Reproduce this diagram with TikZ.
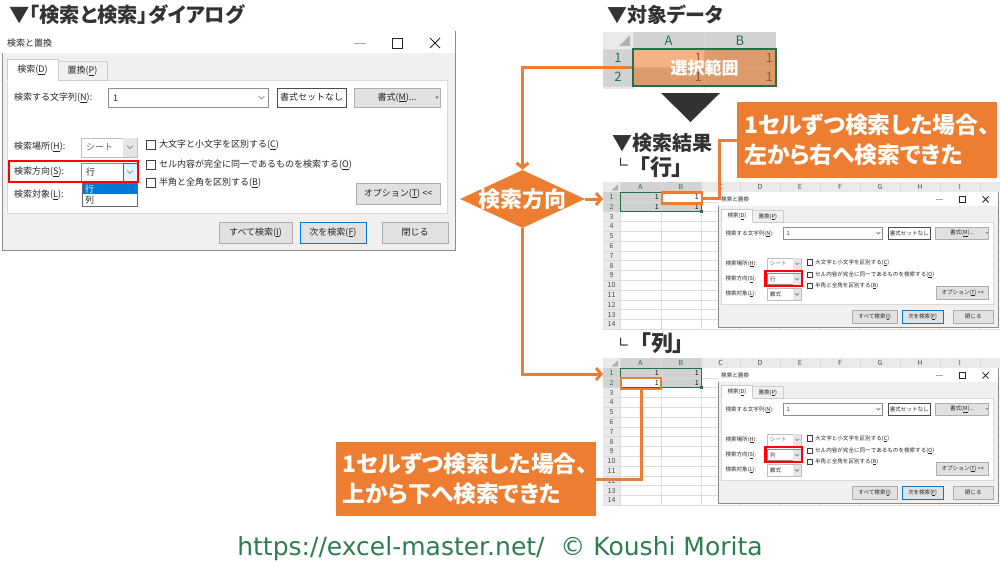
\documentclass[tikz,border=0pt]{standalone}
\usepackage{fontspec}
\setmainfont{Noto Sans CJK JP}
\newfontfamily\pfont{Noto Sans CJK JP}[RawFeature=+palt]
\newfontfamily\footfont{DejaVu Sans}
\usetikzlibrary{shapes.geometric,arrows.meta}
\definecolor{org}{HTML}{ED7D31}
\definecolor{ink}{HTML}{333333}
\definecolor{xlg}{HTML}{217346}
\definecolor{hdr}{HTML}{E9E9E9}
\definecolor{hdrsel}{HTML}{D2D2D2}
\definecolor{gridc}{HTML}{DADADA}
\definecolor{selg}{HTML}{D0D0D0}
\definecolor{selt}{HTML}{C6C6C6}
\definecolor{dlgbg}{HTML}{F0F0F0}
\definecolor{btnf}{HTML}{E1E1E1}
\definecolor{btnb}{HTML}{ADADAD}
\definecolor{winblue}{HTML}{0078D7}
\definecolor{hover}{HTML}{E5F1FB}
\definecolor{footg}{HTML}{2E7D4F}
\definecolor{redbox}{HTML}{FF0000}
\tikzset{
  conn/.style={draw=org, line width=3pt},
  tip/.style={-{Straight Barb[length=5pt,width=12pt]}},
  ttl/.style={font=\pfont\bfseries\fontsize{20}{22}\selectfont, text=ink, inner sep=0pt},
  callout/.style={fill=org, text=white, font=\pfont\bfseries\fontsize{22.8}{30}\selectfont, align=left, inner sep=0pt, minimum width=260, minimum height=76},
  dt/.style={font=\fontsize{9}{10}\selectfont, text=black!85, inner sep=0pt},
  dbtn/.style={dt, draw=btnb, fill=btnf, line width=0.6pt},
  cmb/.style={draw=black!45, fill=white, line width=0.6pt},
  cmblight/.style={draw=black!25, fill=white, line width=0.6pt},
  chev/.style={draw=black!55, line width=0.6pt},
  chk/.style={draw=black!75, fill=white, line width=0.7pt},
  redframe/.style={draw=redbox, line width=2.6pt},
  sh/.style={font=\fontsize{7}{8}\selectfont, inner sep=0pt, text=black!70},
  shg/.style={sh, text=xlg},
  tsh/.style={font=\fontsize{13}{14}\selectfont, inner sep=0pt, text=black!75},
  cellbox/.style={draw=org, line width=2.8pt, inner sep=0pt, outer sep=0pt, minimum width=40, minimum height=11},
  gline/.style={draw=gridc, line width=0.5pt},
}
% ---------- Find & Replace dialog (local coords, 453 x 219) ----------
\newcommand\finddlg[3]{%
  \draw[draw=black!45, fill=dlgbg, line width=0.8pt] (0,0) rectangle (453,219);
  \fill[white] (0.4,0.4) rectangle (452.6,22);
  \node[dt, anchor=west] (#1ttl) at (5,12) {検索と置換};
  \draw[black!35, line width=0.6pt] (352,12) -- (364,12);
  \draw[black!85, line width=0.8pt] (390,7) rectangle (400,17);
  \draw[black!85, line width=0.8pt] (428,7) -- (438,17) (428,17) -- (438,7);
  \draw[draw=black!15, fill=white, line width=0.6pt] (5,49) rectangle (445,182);
  \draw[draw=black!20, fill=dlgbg, line width=0.6pt] (56,30) rectangle (105,49);
  \fill[white] (5,28) rectangle (56,49.6);
  \draw[draw=black!20, line width=0.6pt] (5,49) -- (5,28) -- (56,28) -- (56,49);
  \node[dt] (#1tabA) at (30.5,39) {検索(\underline{D})};
  \node[dt] (#1tabB) at (80.5,40) {置換(\underline{P})};
  \node[dt, anchor=west] (#1labA) at (12,67) {検索する文字列(\underline{N}):};
  \draw[cmb] (106,57) rectangle (266,76);
  \draw[chev] (256.5,65) -- (259.5,68) -- (262.5,65);
  \node[dt, anchor=west] (#1valA) at (111,67) {1};
  \node[dbtn, fill=white, draw=black!70, minimum width=69, minimum height=19] (#1fmtA) at (309.5,66.5) {書式セットなし};
  \node[dbtn, minimum width=86, minimum height=19] (#1fmtB) at (395,66.5) {書式(\underline{M})...};
  \fill[black!70] (433.5,65.5) -- (436.5,65.5) -- (435,67.5) -- cycle;
  \node[dt, anchor=west] (#1labB) at (12,116) {検索場所(\underline{H}):};
  \draw[cmblight] (79,107) rectangle (135,126);
  \fill[black!10] (121,107.3) rectangle (134.7,125.7);
  \draw[chev] (125,114.5) -- (128,117.5) -- (131,114.5);
  \node[dt, anchor=west, text=black!60] (#1valB) at (84,116) {シート};
  \node[dt, anchor=west] (#1labC) at (12,141) {検索方向(\underline{S}):};
  \draw[cmb] (79,132) rectangle (135,150);
  \ifnum#3=1
    \draw[draw=winblue, fill=hover, line width=0.6pt] (121,132) rectangle (135,150);
  \else
    \fill[black!10] (121,132.3) rectangle (134.7,149.7);
  \fi
  \draw[chev] (125,139.5) -- (128,142.5) -- (131,139.5);
  \node[dt, anchor=west] (#1valC) at (84,141) {#2};
  \node[dt, anchor=west] (#1labD) at (12,164) {検索対象(\underline{L}):};
  \draw[chk] (144,109.5) rectangle (153,118.5);
  \node[dt, anchor=west] (#1chkA) at (157,114) {大文字と小文字を区別する(\underline{C})};
  \draw[chk] (144,129.5) rectangle (153,138.5);
  \node[dt, anchor=west] (#1chkB) at (157,134) {セル内容が完全に同一であるものを検索する(\underline{O})};
  \draw[chk] (144,147.5) rectangle (153,156.5);
  \node[dt, anchor=west] (#1chkC) at (157,152) {半角と全角を区別する(\underline{B})};
  \node[dbtn, minimum width=84, minimum height=21] (#1opt) at (396,162.5) {オプション(\underline{T}) <{}<};
  \node[dbtn, minimum width=73, minimum height=21] (#1all) at (253.5,201.5) {すべて検索(\underline{I})};
  \node[dbtn, draw=winblue, line width=0.9pt, minimum width=66, minimum height=21] (#1next) at (331,201.5) {次を検索(\underline{F})};
  \node[dbtn, minimum width=66, minimum height=21] (#1close) at (413,201.5) {閉じる};
  \ifnum#3=1
    \draw[draw=black!60, fill=white, line width=0.6pt] (80,152) rectangle (135,175);
    \fill[winblue] (80.5,152.5) rectangle (134.5,163);
    \node[dt, anchor=west, text=white] (#1lstA) at (83,158) {行};
    \node[dt, anchor=west] (#1lstB) at (83,169) {列};
    \draw[redframe] (7,130) rectangle (136,151);
  \else
    \draw[cmblight] (79,156) rectangle (135,175);
    \fill[black!10] (121,156.3) rectangle (134.7,174.7);
    \draw[chev] (125,164) -- (128,167) -- (131,164);
    \node[dt, anchor=west] (#1valD) at (84,165.5) {数式};
    \draw[redframe] (77,128) rectangle (136,152);
  \fi
}
% ---------- worksheet (columns A..I, 14 rows) ----------
\newcommand\xlsheet[3]{%
 \begin{scope}[shift={(0,#2)}]
  \fill[white] (603,0) rectangle (1000,147);
  \fill[hdr] (603,0) rectangle (1000,10);
  \fill[hdr] (603,10) rectangle (620,147);
  \fill[hdrsel] (620,0) rectangle (701,10);
  \fill[hdrsel] (603,10) rectangle (620,29.6);
  \fill[selg] (620,10) rectangle (701,29.6);
  \ifnum#3=1 \fill[white] (661,10) rectangle (701,19.8);\else \fill[white] (620,19.8) rectangle (661,29.6);\fi
  \foreach \gx in {620,661,701,740,780,820,860,900,940,980} \draw[gline] (\gx,0) -- (\gx,147);
  \foreach \gr in {1,...,14} \draw[gline] (603,{10+\gr*9.8}) -- (1000,{10+\gr*9.8});
  \fill[black!30] (618,2) -- (618,8.5) -- (611.5,8.5) -- cycle;
  \foreach \cl/\cx in {A/640.5,B/681} \node[shg] (#1col\cl) at (\cx,5) {\cl};
  \foreach \cl/\cx in {C/720.5,D/760,E/800,F/840,G/880,H/920,I/960} \node[sh] (#1col\cl) at (\cx,5) {\cl};
  \foreach \gr in {1,2} \node[shg] (#1row\gr) at (611.5,{5.1+\gr*9.8}) {\gr};
  \foreach \gr in {3,...,14} \node[sh] (#1row\gr) at (611.5,{5.1+\gr*9.8}) {\gr};
  \node[sh, anchor=east, text=black!90] (#1vA) at (659,14.9) {1};
  \node[sh, anchor=east, text=black!90] (#1vB) at (699,14.9) {1};
  \node[sh, anchor=east, text=black!90] (#1vC) at (659,24.7) {1};
  \node[sh, anchor=east, text=black!90] (#1vD) at (699,24.7) {1};
  \draw[xlg, line width=1pt] (620,10) rectangle (701,29.6);
  \fill[xlg] (699.5,28.1) rectangle (702.5,31.1);
 \end{scope}
}
\begin{document}
\begin{tikzpicture}[x=1pt,y=-1pt]
\useasboundingbox (0,0) rectangle (1000,563);
\fill[white] (0,0) rectangle (1000,563);
% titles
\node[ttl, font=\pfont\bfseries\fontsize{20.3}{23}\selectfont, anchor=west] (tA) at (9,15) {▼「検索と検索」ダイアログ};
\node[ttl, anchor=west] (tB) at (607,15) {▼対象データ};
\node[ttl, anchor=west] (tC) at (612,143) {▼検索結果};
\node[font=\footfont\fontsize{14}{15}\selectfont, text=ink, inner sep=0pt, anchor=base west] (subA) at (618,167) {∟};
\node[ttl, font=\pfont\bfseries\fontsize{22}{24}\selectfont, anchor=west] (rowlab) at (639,167) {「行」};
\node[font=\footfont\fontsize{14}{15}\selectfont, text=ink, inner sep=0pt, anchor=base west] (subB) at (618,347) {∟};
\node[ttl, font=\pfont\bfseries\fontsize{22}{24}\selectfont, anchor=west] (collab) at (640,343.5) {「列」};
% left dialog
\begin{scope}[shift={(2,31)}]
  \finddlg{dA}{行}{1}
\end{scope}
% target data
\fill[white] (603,32) rectangle (776,89);
\fill[hdr] (603,32) rectangle (633,49);
\fill[hdrsel] (633,32) rectangle (776,49);
\fill[hdrsel] (603,49) rectangle (633,86);
\fill[hdr] (603,86) rectangle (633,89);
\fill[selt] (633,49) rectangle (776,86);
\fill[white] (633,49) rectangle (704,67.5);
\draw[gline] (633,32) -- (633,89) (704,32) -- (704,89) (603,49) -- (776,49) (603,67.5) -- (776,67.5) (603,86) -- (776,86);
\fill[black!30] (630,35) -- (630,46) -- (619,46) -- cycle;
\node[tsh, text=xlg] (hA) at (668.5,41) {A};
\node[tsh, text=xlg] (hB) at (740,41) {B};
\node[tsh, text=xlg] (rA) at (618,58.3) {1};
\node[tsh, text=xlg] (rB) at (618,76.8) {2};
\node[tsh, anchor=east, text=black!85] (vA) at (702,58.3) {1};
\node[tsh, anchor=east, text=black!85] (vB) at (773,58.3) {1};
\node[tsh, anchor=east, text=black!85] (vC) at (702,76.8) {1};
\node[tsh, anchor=east, text=black!85] (vD) at (773,76.8) {1};
\node[draw=xlg, line width=1.2pt, fill=org, fill opacity=0.6, text opacity=1, text=white,
      font=\pfont\bfseries\fontsize{17}{18}\selectfont, minimum width=143, minimum height=37, inner sep=0pt]
      (sel) at (704.5,67.5) {選択範囲};
\fill[ink] (661,93) -- (720,93) -- (690.5,122) -- cycle;
% result sheets and dialogs
\xlsheet{sA}{182}{1}
\xlsheet{sB}{358}{2}
\begin{scope}[shift={(718,192)}, scale=0.618, transform shape]
  \finddlg{dB}{行}{2}
\end{scope}
\begin{scope}[shift={(718,368)}, scale=0.618, transform shape]
  \finddlg{dC}{列}{2}
\end{scope}
\node[cellbox] (bbox) at (682,198) {};
\node[cellbox] (abox) at (641,383.5) {};
% flow
\node[diamond, fill=org, minimum width=125, minimum height=58, inner sep=0pt] (dia) at (522.5,199) {};
\node[font=\pfont\bfseries\fontsize{22}{24}\selectfont, text=white, inner sep=0pt] (diat) at (dia.center) {検索方向};
\coordinate (arrA) at (603,199);
\coordinate (arrB) at (603,374);
\draw[conn, tip] (sel.west) -| (dia.north);
\draw[conn, tip] (dia.east) -- (arrA);
\draw[conn, tip] (dia.south) |- (arrB);
% callouts
\node[callout] (cA) at (867,140) {1セルずつ検索した場合、\\左から右へ検索できた};
\node[callout, minimum height=74] (cB) at (465.5,479) {1セルずつ検索した場合、\\上から下へ検索できた};
\draw[conn] (cA.west) -- ++(-17,0) |- (bbox.east);
\draw[conn] (cB.east) -| (abox.south);
% footer
\node[font=\footfont\fontsize{25}{27}\selectfont, text=footg, inner sep=0pt, anchor=base] (foot) at (500,555) {https://excel-master.net/\ \ © Koushi Morita};
\end{tikzpicture}
\end{document}
